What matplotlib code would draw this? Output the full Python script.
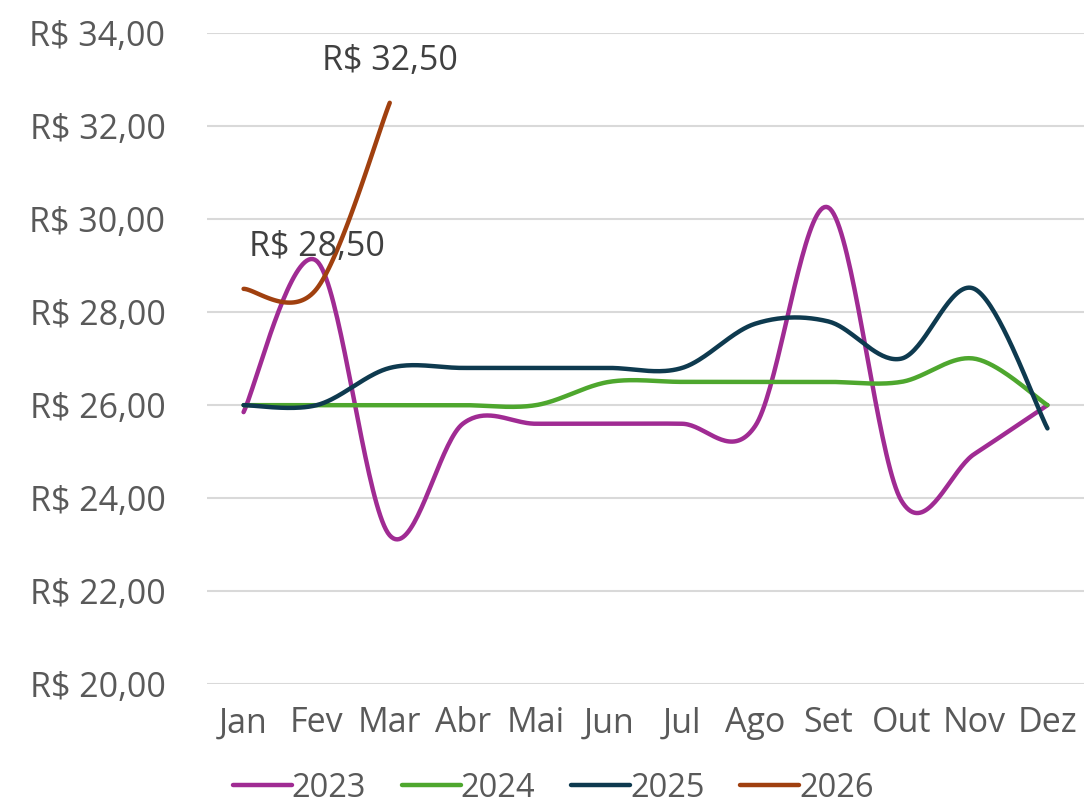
"""
Preço mensal por ano (2023-2026), linhas suavizadas no estilo Excel.
"""

import numpy as np
import matplotlib
matplotlib.use("Agg")
import matplotlib.pyplot as plt

months = ["Jan", "Fev", "Mar", "Abr", "Mai", "Jun",
          "Jul", "Ago", "Set", "Out", "Nov", "Dez"]

y2023 = [25.85, 29.1, 23.2, 25.6, 25.6, 25.6, 25.6, 25.55, 30.25, 23.95, 24.95, 26.0]
y2024 = [26.0, 26.0, 26.0, 26.0, 26.0, 26.5, 26.5, 26.5, 26.5, 26.5, 27.0, 26.0]
y2025 = [26.0, 26.0, 26.8, 26.8, 26.8, 26.8, 26.8, 27.75, 27.8, 27.0, 28.5, 25.5]
y2026 = [28.5, 28.5, 32.5]

series = [("2023", y2023, "#A02B93"),
          ("2024", y2024, "#4EA72E"),
          ("2025", y2025, "#0E3A4F"),
          ("2026", y2026, "#A0400F")]

TEXT = "#595959"


def smooth(xs, ys, n=40):
    """Bezier smoothing like Excel's 'smoothed line' (Catmull-Rom, 1/6)."""
    xs = np.asarray(xs, float)
    ys = np.asarray(ys, float)
    px = np.concatenate([[xs[0]], xs, [xs[-1]]])
    py = np.concatenate([[ys[0]], ys, [ys[-1]]])
    t = np.linspace(0, 1, n)[:, None]
    out_x, out_y = [], []
    for i in range(1, len(px) - 2):
        p0 = np.array([px[i], py[i]])
        p3 = np.array([px[i + 1], py[i + 1]])
        c1 = p0 + (np.array([px[i + 1], py[i + 1]]) - np.array([px[i - 1], py[i - 1]])) / 6
        c2 = p3 - (np.array([px[i + 2], py[i + 2]]) - np.array([px[i], py[i]])) / 6
        b = ((1 - t) ** 3) * p0 + 3 * ((1 - t) ** 2) * t * c1 \
            + 3 * (1 - t) * t ** 2 * c2 + t ** 3 * p3
        out_x.append(b[:, 0])
        out_y.append(b[:, 1])
    return np.concatenate(out_x), np.concatenate(out_y)


def main():
    plt.rcParams["font.family"] = ["Open Sans", "DejaVu Sans"]
    fig = plt.figure(figsize=(10.84, 8.05), dpi=100)
    ax = fig.add_axes([0.191, 0.150, 0.809, 0.809])

    for name, vals, color in series:
        sx, sy = smooth(range(len(vals)), vals)
        ax.plot(sx, sy, color=color, lw=3.2, solid_capstyle="round", label=name)

    # rótulos de dados (Fev e Mar de 2026)
    for i in (1, 2):
        txt = f"R$ {y2026[i]:.2f}".replace(".", ",")
        ax.annotate(txt, xy=(i, y2026[i]), xytext=(0, 18),
                    textcoords="offset points", ha="center", va="bottom",
                    fontsize=24.5, color="#404040")

    ax.set_xlim(-0.5, 11.5)
    ax.set_ylim(20, 34)
    ax.set_xticks(range(12))
    ax.set_xticklabels(months)
    yt = np.arange(20, 35, 2)
    ax.set_yticks(yt)
    ax.set_yticklabels([f"R$ {v:.2f}".replace(".", ",") for v in yt])
    ax.tick_params(axis="both", length=0, labelsize=24.5, colors=TEXT)
    ax.tick_params(axis="y", pad=30)
    ax.tick_params(axis="x", pad=16)
    ax.grid(axis="y", color="#D9D9D9", lw=1.5)
    ax.set_axisbelow(True)
    for s in ax.spines.values():
        s.set_visible(False)

    ax.legend(loc="upper center", bbox_to_anchor=(0.395, -0.099), ncol=4,
              frameon=False, fontsize=23.5, labelcolor=TEXT,
              handlelength=1.8, handletextpad=0.0, columnspacing=1.1,
              borderpad=0.2)

    fig.savefig("out.png", dpi=100)


if __name__ == '__main__':
    main()
